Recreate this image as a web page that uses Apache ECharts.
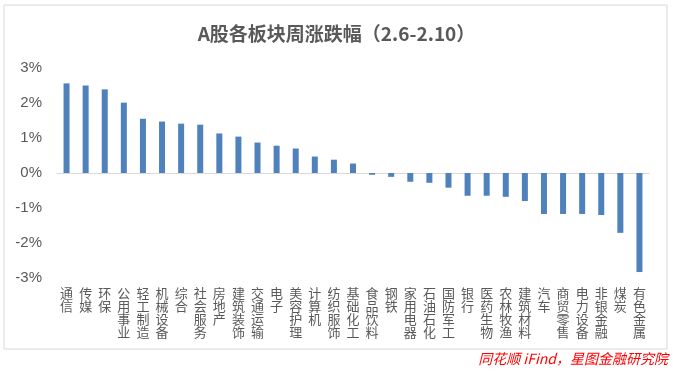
<!DOCTYPE html>
<html><head><meta charset="utf-8">
<script src="https://cdn.jsdelivr.net/npm/echarts@6/dist/echarts.min.js"></script>
<style>html,body{margin:0;padding:0;background:#fff}#c{width:673px;height:372px}</style>
</head><body><div id="c"></div>
<script>
const categories = ['通信','传媒','环保','公用事业','轻工制造','机械设备','综合','社会服务','房地产','建筑装饰','交通运输','电子','美容护理','计算机','纺织服饰','基础化工','食品饮料','钢铁','家用电器','石油石化','国防军工','银行','医药生物','农林牧渔','建筑材料','汽车','商贸零售','电力设备','非银金融','煤炭','有色金属'];
const values = [2.56,2.50,2.39,2.01,1.55,1.47,1.41,1.38,1.13,1.04,0.87,0.78,0.70,0.47,0.38,0.27,-0.05,-0.11,-0.25,-0.28,-0.42,-0.65,-0.65,-0.68,-0.80,-1.17,-1.17,-1.17,-1.20,-1.71,-2.83];
const yTicks = {min:-3, max:3, step:1};
const titleText = 'A股各板块周涨跌幅（2.6-2.10）';
const sourceText = '同花顺 iFind，星图金融研究院';

const chart = echarts.init(document.getElementById('c'));
const grey = '#595959';
chart.setOption({
  animation:false,
  title:{text:titleText,left:'center',top:19,textStyle:{fontSize:19,fontWeight:'bold',color:grey,fontFamily:'Noto Sans CJK SC'}},
  grid:{left:57,right:24,top:68,bottom:94,containLabel:false},
  xAxis:[
    {type:'category',data:categories,axisLine:{onZero:true,lineStyle:{color:'#d9d9d9',width:1}},axisTick:{show:false},axisLabel:{show:false}},
    {type:'category',data:categories,position:'bottom',axisLine:{show:false,onZero:false},axisTick:{show:false},
     axisLabel:{interval:0,margin:9,color:grey,fontSize:13,lineHeight:13,verticalAlign:'top',fontFamily:'Noto Sans CJK SC',
       formatter:v=>v.split('').join('\n')}}
  ],
  yAxis:{type:'value',min:yTicks.min,max:yTicks.max,interval:yTicks.step,splitLine:{show:false},axisLine:{show:false},axisTick:{show:false},
    axisLabel:{formatter:'{value}%',color:grey,fontSize:15,margin:15,fontFamily:'Liberation Sans'}},
  series:[{type:'bar',xAxisIndex:0,data:values,barWidth:6,itemStyle:{color:'#4f81bd'}}],
  graphic:[
    {type:'rect',shape:{x:4,y:5,width:663,height:344},style:{fill:'none',stroke:'#d9d9d9',lineWidth:1},silent:true},
    {type:'text',right:5,top:352,style:{text:sourceText,fill:'#ff0000',font:'italic 14px "Noto Sans CJK SC"'}}
  ]
});
</script></body></html>
